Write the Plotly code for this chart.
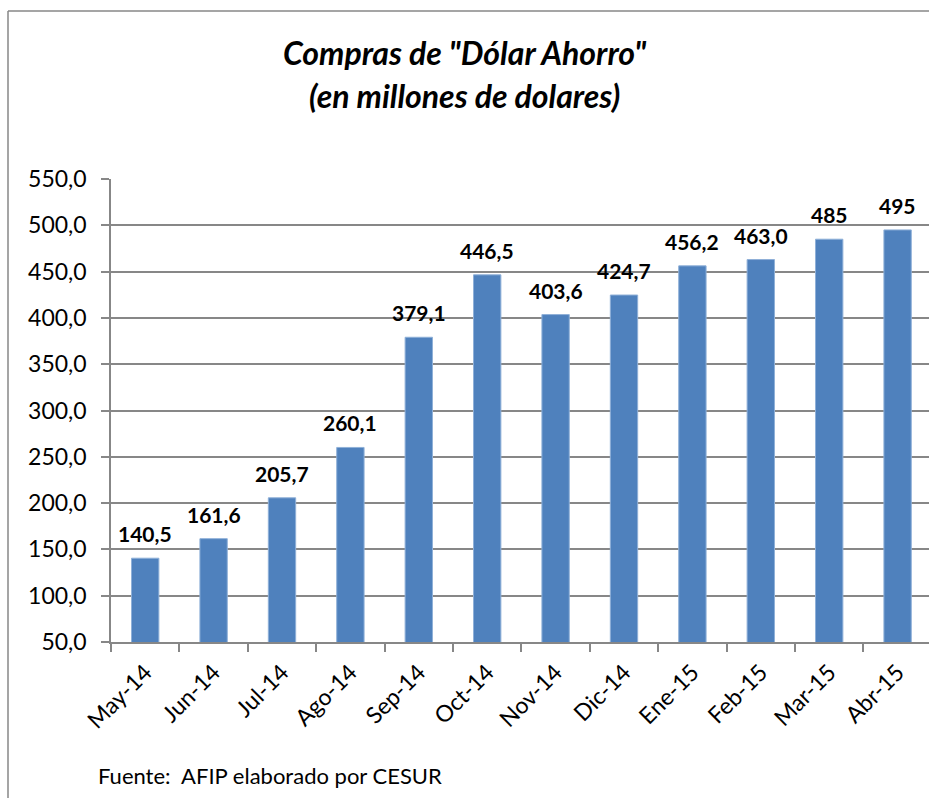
import plotly.graph_objects as go

# ---- data ----
months = ["May-14", "Jun-14", "Jul-14", "Ago-14", "Sep-14", "Oct-14",
          "Nov-14", "Dic-14", "Ene-15", "Feb-15", "Mar-15", "Abr-15"]
values = [140.5, 161.6, 205.7, 260.1, 379.1, 446.5,
          403.6, 424.7, 456.2, 463.0, 485, 495]
value_labels = ["140,5", "161,6", "205,7", "260,1", "379,1", "446,5",
                "403,6", "424,7", "456,2", "463,0", "485", "495"]
title_lines = ['Compras de "Dólar Ahorro"', "(en millones de dolares)"]
source_note = "Fuente:  AFIP elaborado por CESUR"

# ---- layout geometry (pixels) ----
W, H = 929, 798
L, R, T, B = 111, 0, 179, 156
PW, PH = W - L - R, H - T - B
cat_w = 68.4
FONT = "Lato, 'Open Sans', sans-serif"
GRAY = "#878787"

def px_x(px):
    return (px - L) / PW

def px_y(py):
    return (H - B - py) / PH

fig = go.Figure()
fig.add_trace(go.Bar(
    x=months, y=values,
    marker=dict(color="#4F81BD", line=dict(color="#8FB0D8", width=1)),
    hoverinfo="x+y",
))

annotations = []
for m, v, t in zip(months, values, value_labels):
    annotations.append(dict(
        x=m, y=v, xref="x", yref="y", text=t, showarrow=False,
        yanchor="bottom", yshift=10,
        font=dict(family=FONT, size=21, color="black", weight="bold"),
    ))

annotations.append(dict(
    x=px_x(464), y=px_y(53), xref="paper", yref="paper",
    text="<b><i>" + title_lines[0] + "</i></b>", showarrow=False,
    xanchor="center", yanchor="middle",
    font=dict(family=FONT, size=32, color="black"),
))
annotations.append(dict(
    x=px_x(464), y=px_y(96), xref="paper", yref="paper",
    text="<b><i>" + title_lines[1] + "</i></b>", showarrow=False,
    xanchor="center", yanchor="middle",
    font=dict(family=FONT, size=32, color="black"),
))
annotations.append(dict(
    x=px_x(96), y=px_y(775), xref="paper", yref="paper",
    text=source_note, showarrow=False,
    xanchor="left", yanchor="middle",
    font=dict(family=FONT, size=22, color="black"),
))

shapes = [
    dict(type="line", xref="paper", yref="paper",
         x0=px_x(8), x1=px_x(8), y0=px_y(11), y1=px_y(H + 5),
         line=dict(color=GRAY, width=1.5)),
    dict(type="line", xref="paper", yref="paper",
         x0=px_x(8), x1=px_x(W + 5), y0=px_y(11), y1=px_y(11),
         line=dict(color=GRAY, width=1.5)),
]

fig.update_layout(
    width=W, height=H,
    margin=dict(l=L, r=R, t=T, b=B, pad=0),
    paper_bgcolor="white", plot_bgcolor="white",
    separators=",.",
    bargap=0.6,
    showlegend=False,
    annotations=annotations,
    shapes=shapes,
    font=dict(family=FONT, color="black"),
)

fig.update_xaxes(
    type="category",
    range=[-0.5, -0.5 + PW / cat_w],
    showline=True, linecolor=GRAY, linewidth=1.5,
    ticks="outside", tickson="boundaries", ticklen=8,
    tickcolor=GRAY, tickwidth=1.5,
    tickangle=-45,
    ticklabelstandoff=6,
    tickfont=dict(family=FONT, size=23, color="black"),
    showgrid=False,
)
fig.update_yaxes(
    range=[50, 550], dtick=50, tick0=50,
    tickformat=".1f",
    showline=True, linecolor=GRAY, linewidth=1.5,
    ticks="outside", ticklen=8, tickcolor=GRAY, tickwidth=1.5,
    ticklabelstandoff=10,
    showgrid=True, gridcolor=GRAY, gridwidth=1.5,
    zeroline=False,
    tickfont=dict(family=FONT, size=23, color="black"),
)

fig.write_html(
    "out.html",
    config={"displayModeBar": False},
    post_script="document.body.style.margin='0';"
                "document.body.style.overflow='hidden';",
)
